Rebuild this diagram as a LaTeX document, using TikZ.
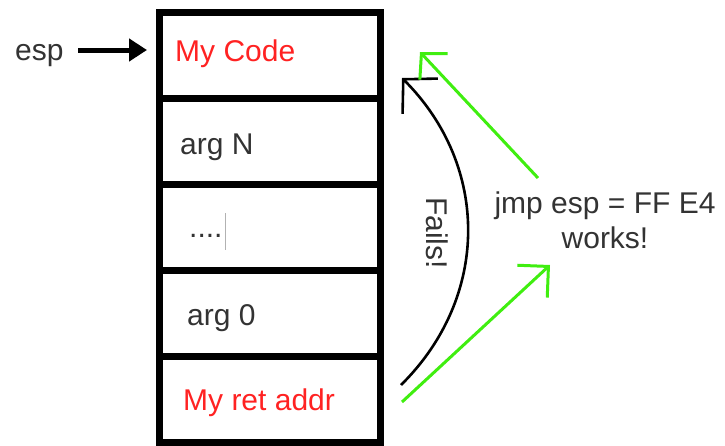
\documentclass[tikz,border=0pt]{standalone}
\usepackage{fontspec}
\setmainfont{Liberation Sans}
\usetikzlibrary{arrows.meta}
\definecolor{txtgray}{RGB}{51,51,51}
\definecolor{hotred}{RGB}{255,34,34}
\definecolor{lime}{RGB}{64,238,16}
\tikzset{
  slot/.style={draw=black, line width=7pt, minimum width=220.5pt, minimum height=86pt, inner sep=0pt},
  lbl/.style={anchor=base west, inner sep=0pt, text=txtgray, font=\fontsize{30}{36}\selectfont},
  redlbl/.style={lbl, text=hotred},
  esparrow/.style={line width=5pt, -{Triangle[length=18pt,width=22pt]}},
  failarrow/.style={line width=2.6pt, black, -{Straight Barb[length=24pt,width=50pt]}},
  workarrow/.style={line width=3pt, lime, -{Straight Barb[length=18pt,width=38pt]}},
}
\begin{document}
\begin{tikzpicture}[x=1pt,y=-1pt]
\useasboundingbox (0,0) rectangle (725,445);
% stack frame slots
\node[slot] (s1) at (269.75,55.5) {};
\node[slot] (s2) at (269.75,141.5) {};
\node[slot] (s3) at (269.75,227.5) {};
\node[slot] (s4) at (269.75,313.5) {};
\node[slot] (s5) at (269.75,399.5) {};
% slot contents
\node[redlbl] (code) at (175,61) {My Code};
\node[lbl] (argn) at (180,154) {arg N};
\node[lbl] (dots) at (189,237) {....};
\draw[gray!60, line width=0.8pt] (225,213) -- (225,250);
\node[lbl] (arg0) at (187,325) {arg 0};
\node[redlbl] (ret) at (183,410) {My ret addr};
% stack pointer
\node[lbl] (esp) at (15,60) {esp};
\coordinate (ea) at (78,50);
\coordinate (eb) at (147,50);
\draw[esparrow] (ea) -- (eb);
% failing direct return
\coordinate (f1) at (401,385);
\coordinate (f2) at (402,78);
\draw[failarrow] (f1) .. controls (490,297) and (490,166) .. (f2);
\node[rotate=-90, text=txtgray, font=\fontsize{30}{36}\selectfont, inner sep=0pt] (fails) at (437,233) {Fails!};
% working jmp esp path
\node[text=txtgray, font=\fontsize{30}{36}\selectfont, align=center, inner sep=0pt] (jmp) at (605,220) {jmp esp = FF E4\\[-1pt]works!};
\coordinate (g1a) at (538,178);
\coordinate (g1b) at (420,52);
\coordinate (g2a) at (402,402);
\coordinate (g2b) at (550,265);
\draw[workarrow] (g1a) -- (g1b);
\draw[workarrow, -{Straight Barb[length=22pt,width=44pt]}] (g2a) -- (g2b);
\end{tikzpicture}
\end{document}
